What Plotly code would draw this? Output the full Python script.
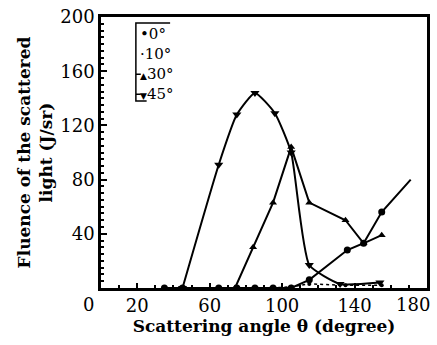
import plotly.graph_objects as go

# ---- data ----
angle_0 = [35, 45, 65, 75, 85, 95, 105, 115, 136, 145, 155, 171]
fluence_0 = [0, 0, 0, 0, 0, 0, 0, 6, 28, 33, 56, 80]

angle_10 = [35, 45, 65, 75, 85, 95, 105, 115, 135, 155]
fluence_10 = [0, 0, 0, 0, 0, 0, 1, 3, 2, 2]

angle_30 = [74, 84, 95, 105, 115, 135, 145, 155]
fluence_30 = [0, 30, 63, 104, 63, 50, 33, 39]

angle_45 = [45, 65, 75, 85, 96, 105, 115, 132, 154]
fluence_45 = [0, 91, 128, 144, 129, 100, 17, 3, 4]

series_names = ["0°", "10°", "30°", "45°"]
key_glyphs = ["•", "·", "▲", "▼"]
x_ticks = [20, 60, 100, 140]
x_end_labels = [0, 180]
y_ticks = [40, 80, 120, 160, 200]

SERIF = "DejaVu Serif"
BLACK = "black"

fig = go.Figure()

# 0 deg: the curve continues past the last measured point, which has no marker
fig.add_trace(go.Scatter(x=angle_0, y=fluence_0, mode="lines",
                         line=dict(color=BLACK, width=2),
                         showlegend=False, hoverinfo="skip"))
fig.add_trace(go.Scatter(x=angle_0[:-1], y=fluence_0[:-1], mode="markers",
                         marker=dict(symbol="circle", size=7, color=BLACK, opacity=1,
                                     line=dict(width=0)),
                         showlegend=False, name=series_names[0]))
fig.add_trace(go.Scatter(x=angle_10, y=fluence_10, mode="lines+markers",
                         line=dict(color=BLACK, width=1.5, dash="dot"),
                         marker=dict(symbol="circle", size=4, color=BLACK, opacity=1),
                         showlegend=False, name=series_names[1]))
fig.add_trace(go.Scatter(x=angle_30, y=fluence_30, mode="lines+markers",
                         line=dict(color=BLACK, width=2),
                         marker=dict(symbol="triangle-up", size=7, color=BLACK, opacity=1),
                         showlegend=False, name=series_names[2]))
fig.add_trace(go.Scatter(x=angle_45, y=fluence_45, mode="lines+markers",
                         line=dict(color=BLACK, width=2, shape="spline", smoothing=0.5),
                         marker=dict(symbol="triangle-down", size=8, color=BLACK, opacity=1),
                         showlegend=False, name=series_names[3]))

axis_common = dict(showline=True, linecolor=BLACK, linewidth=2.5, mirror=True,
                   showgrid=False, zeroline=False, ticks="inside", automargin=False,
                   tickcolor=BLACK, tickfont=dict(family=SERIF, size=18, color=BLACK))

fig.update_xaxes(range=[0, 180], tickvals=x_ticks, ticklen=5, tickwidth=1.5,
                 minor=dict(dtick=10, ticks="inside", ticklen=3, tickcolor=BLACK),
                 title=dict(text="Scattering angle θ (degree)",
                            font=dict(family=SERIF, size=17, color=BLACK, weight="bold"),
                            standoff=2),
                 **axis_common)
fig.update_yaxes(range=[0, 200], tickvals=y_ticks, ticklen=6, tickwidth=1.5,
                 minor=dict(dtick=5, ticks="inside", ticklen=3, tickcolor=BLACK),
                 title=dict(text="Fluence of the scattered<br>light (J/sr)",
                            font=dict(family=SERIF, size=17, color=BLACK, weight="bold"),
                            standoff=4),
                 **axis_common)

# end labels of the angle axis, drawn just outside the frame as in the reference
for val, shift in zip(x_end_labels, [-13, -14]):
    fig.add_annotation(x=val, y=0, xref="x", yref="paper", text=str(val), showarrow=False,
                       yanchor="top", xshift=shift, yshift=-4,
                       font=dict(family=SERIF, size=18, color=BLACK))

# key (bracketed, as in the reference)
key_y = [0.937, 0.863, 0.789, 0.715]
glyph_size = [15, 15, 9, 9]
for name, glyph, gy, gs in zip(series_names, key_glyphs, key_y, glyph_size):
    fig.add_annotation(x=0.112, y=gy, xref="paper", yref="paper", xanchor="left",
                       yanchor="middle", showarrow=False,
                       text=f"<span style='font-size:{gs}px'>{glyph}</span>{name}",
                       font=dict(family=SERIF, size=15, color=BLACK))

fig.add_shape(type="path", xref="paper", yref="paper",
              path=("M 0.212 0.978 L 0.107 0.978 L 0.107 0.690 L 0.140 0.690 "
                    "M 0.107 0.789 L 0.122 0.789 M 0.107 0.715 L 0.122 0.715"),
              line=dict(color=BLACK, width=1.5))

fig.update_layout(
    width=437, height=345,
    margin=dict(l=101, r=10, t=17, b=57, autoexpand=False),
    paper_bgcolor="white", plot_bgcolor="white",
    showlegend=False,
)

fig.write_html("out.html", config={"displayModeBar": False},
               post_script="document.body.style.margin='0';")
